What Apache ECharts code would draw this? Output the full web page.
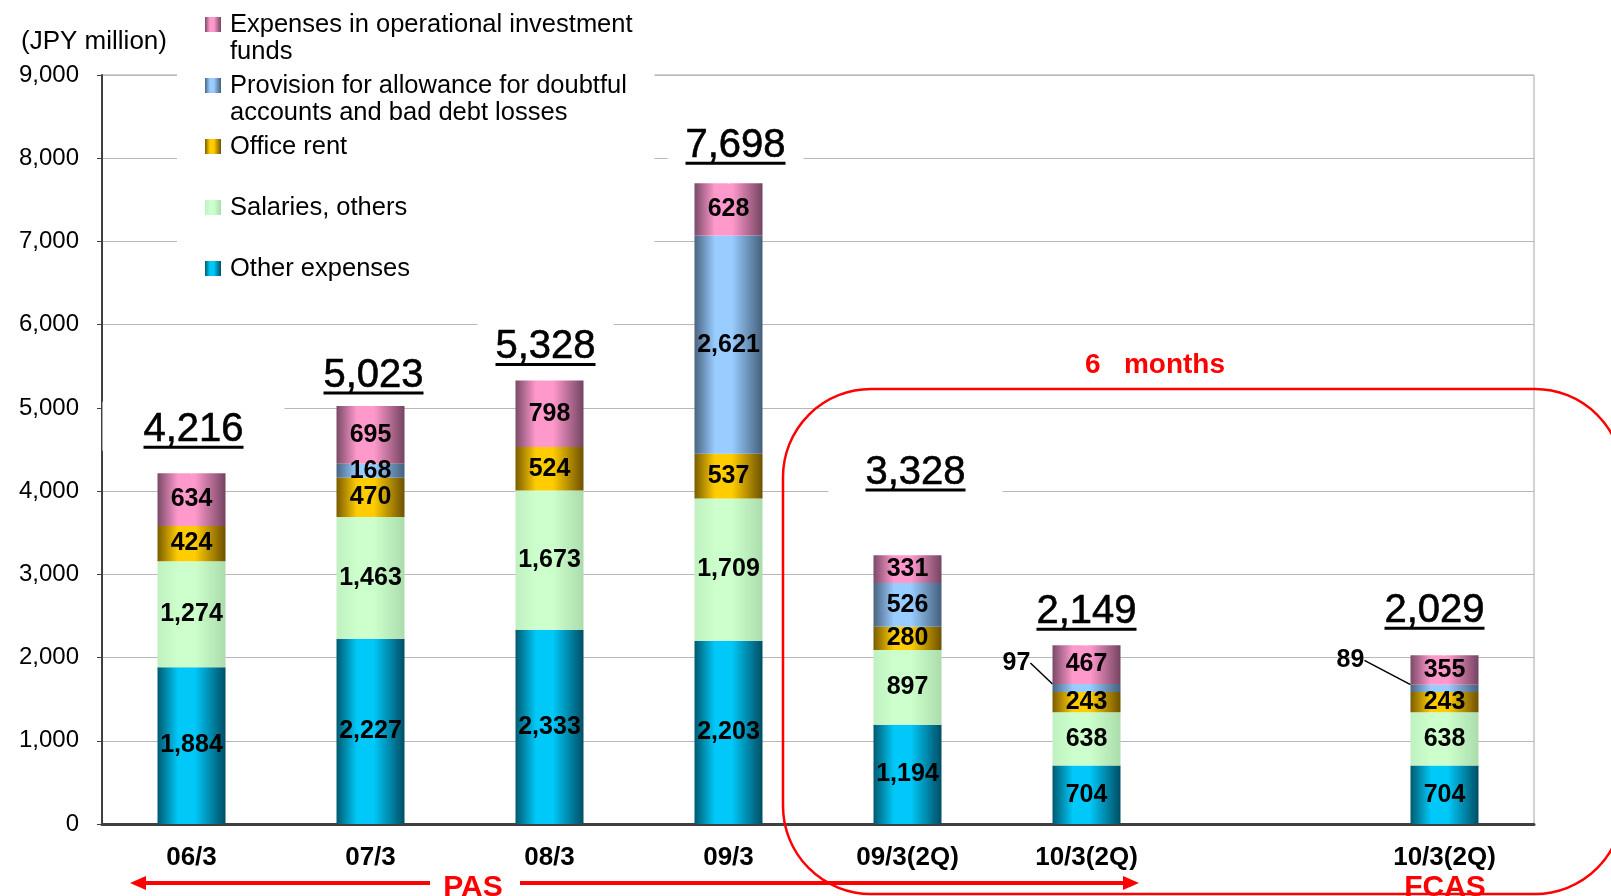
<!DOCTYPE html>
<html lang="en">
<head>
<meta charset="UTF-8">
<title>Expenses</title>
<style>html,body{margin:0;padding:0;background:#fff}</style>
</head>
<body>
<div id="echart" style="width: 1611px; height: 896px;"></div>
<script src="https://cdn.jsdelivr.net/npm/echarts@6/dist/echarts.min.js"></script>
<script>
    // categories (index 6 is an empty slot between the two 10/3(2Q) bars)
    var categories = ['06/3', '07/3', '08/3', '09/3', '09/3(2Q)', '10/3(2Q)', '', '10/3(2Q)'];
    // JPY million
    var otherExpenses = [1884, 2227, 2333, 2203, 1194, 704, null, 704];
    var salaries = [1274, 1463, 1673, 1709, 897, 638, null, 638];
    var officeRent = [424, 470, 524, 537, 280, 243, null, 243];
    var provision = [null, 168, null, 2621, 526, 97, null, 89];
    var fundExpenses = [634, 695, 798, 628, 331, 467, null, 355];
    var totals = [4216, 5023, 5328, 7698, 3328, 2149, null, 2029];

    var names = {
        funds: 'Expenses in operational investment\nfunds',
        provision: 'Provision for allowance for doubtful\naccounts and bad debt losses',
        rent: 'Office rent',
        salaries: 'Salaries, others',
        other: 'Other expenses'
    };

    // label placement for the totals (px above bar top, px sideways, box padding)
    var totalLift = [22, 9, 12, 16, 53, 12, 0, 23];
    var totalShift = [2, 3, -4, 7, 8, 0, 0, -10];
    var totalPad = [41, 20, 18, 18, 37, 18, 0, 18];

    var FONT = '"Liberation Sans", Arial, sans-serif';

    function fmt(v) {
        return Number(v).toLocaleString('en-US');
    }
    function grad(edgeL, mid, edgeR) {
        return new echarts.graphic.LinearGradient(0, 0, 1, 0, [
            {offset: 0, color: edgeL},
            {offset: 0.3, color: mid},
            {offset: 0.55, color: mid},
            {offset: 1, color: edgeR}
        ]);
    }

    var segLabel = {
        show: true,
        position: 'inside',
        color: '#000',
        fontWeight: 'bold',
        fontSize: 25,
        fontFamily: FONT,
        formatter: function (p) { return fmt(p.value); }
    };

    function barSeries(name, data, color, extra) {
        var s = {
            name: name,
            type: 'bar',
            stack: 'total',
            barWidth: 68,
            data: data,
            itemStyle: {color: color},
            label: segLabel,
            emphasis: {disabled: true}
        };
        for (var k in extra) s[k] = extra[k];
        return s;
    }

    var dom = document.getElementById('echart');
    var myChart = echarts.init(dom);

    var option = {
        animation: false,
        textStyle: {fontFamily: FONT},
        grid: {
            left: 102, right: 77, top: 75, bottom: 72,
            show: true,
            borderColor: '#a6a6a6',
            borderWidth: 1
        },
        legend: {
            orient: 'vertical',
            left: 177,
            top: 0,
            padding: [11, 22, 6, 28],
            backgroundColor: '#fff',
            itemGap: 7,
            itemWidth: 16,
            itemHeight: 54,
            // icon sits next to the first text line
            icon: 'path://M0,0L0,0M0,6L16,6L16,21L0,21ZM16,54L16,54',
            selectedMode: false,
            data: [names.funds, names.provision, names.rent, names.salaries, names.other],
            formatter: function (name) {
                return name.indexOf('\n') < 0 ? name + '\n ' : name;
            },
            textStyle: {fontSize: 25.5, lineHeight: 27, color: '#000', padding: [0, 0, 0, 4]}
        },
        xAxis: {
            type: 'category',
            data: categories,
            axisLine: {lineStyle: {color: '#404040', width: 3}},
            axisTick: {show: false},
            axisLabel: {
                color: '#000',
                fontWeight: 'bold',
                fontSize: 26,
                margin: 21,
                interval: 0
            }
        },
        yAxis: {
            type: 'value',
            min: 0,
            max: 9000,
            interval: 1000,
            name: '(JPY million)',
            nameLocation: 'end',
            nameGap: 20,
            nameTextStyle: {color: '#000', fontSize: 26, padding: [0, 16, 0, 0]},
            axisLine: {show: true, lineStyle: {color: '#404040', width: 2}},
            axisTick: {show: true, length: 5, lineStyle: {color: '#404040'}},
            axisLabel: {
                color: '#000',
                fontSize: 24,
                margin: 23,
                formatter: function (v) { return fmt(v); }
            },
            splitLine: {lineStyle: {color: '#b8b8b8', width: 1}}
        },
        series: [
            barSeries(names.other, otherExpenses, grad('#005a70', '#00c8f8', '#004e64')),
            barSeries(names.salaries, salaries, grad('#c0f0c0', '#ccffcc', '#acdcac')),
            barSeries(names.rent, officeRent, grad('#7a5c00', '#ffcc00', '#6e5200')),
            barSeries(names.provision, provision, grad('#4a6480', '#99ccff', '#44607c'), {
                labelLayout: function (p) {
                    if (p.dataIndex === 5) return {dx: -70, dy: -25};
                    if (p.dataIndex === 7) return {dx: -94, dy: -28};
                    return {};
                },
                labelLine: {show: true, lineStyle: {color: '#000', width: 1.5}}
            }),
            barSeries(names.funds, fundExpenses, grad('#7a4a68', '#ff99cc', '#744462')),
            {
                name: 'Total',
                type: 'scatter',
                z: 5,
                symbolSize: 1,
                itemStyle: {color: '#fff', opacity: 1},
                emphasis: {disabled: true},
                data: totals.map(function (v, i) {
                    if (v == null) return null;
                    return {
                        value: v,
                        label: {
                            offset: [totalShift[i], -totalLift[i]],
                            padding: [12, totalPad[i], 2, totalPad[i]]
                        }
                    };
                }),
                label: {
                    show: true,
                    position: 'top',
                    distance: 0,
                    backgroundColor: '#fff',
                    formatter: function (p) { return '{t|' + fmt(p.value) + '}\n{u|}'; },
                    rich: {
                        t: {
                            fontSize: 40, lineHeight: 32, color: '#000', align: 'center', fontFamily: FONT,
                            textBorderColor: '#000', textBorderWidth: 0.6
                        },
                        u: {width: 100, height: 3, backgroundColor: '#000', align: 'center'}
                    }
                }
            }
        ],
        graphic: [
            {
                type: 'rect',
                z: 100,
                shape: {x: 783, y: 389, width: 840, height: 505, r: 88},
                style: {fill: 'none', stroke: '#ff0000', lineWidth: 2.5}
            },
            {
                type: 'text', z: 100, x: 1155, y: 365,
                style: {text: '6   months', fill: '#ff0000', fontSize: 28, fontWeight: 'bold', fontFamily: FONT, align: 'center', verticalAlign: 'middle'}
            },
            {
                type: 'polyline', z: 100,
                shape: {points: [[430, 883], [140, 883]]},
                style: {stroke: '#ff0000', lineWidth: 4}
            },
            {
                type: 'polygon', z: 100,
                shape: {points: [[130, 883], [146, 876], [146, 890]]},
                style: {fill: '#ff0000'}
            },
            {
                type: 'polyline', z: 100,
                shape: {points: [[520, 883], [1128, 883]]},
                style: {stroke: '#ff0000', lineWidth: 4}
            },
            {
                type: 'polygon', z: 100,
                shape: {points: [[1139, 883], [1123, 876], [1123, 890]]},
                style: {fill: '#ff0000'}
            },
            {
                type: 'text', z: 100, x: 473, y: 888,
                style: {text: 'PAS', fill: '#ff0000', fontSize: 30, fontWeight: 'bold', fontFamily: FONT, align: 'center', verticalAlign: 'middle'}
            },
            {
                type: 'text', z: 100, x: 1445, y: 888,
                style: {text: 'FCAS', fill: '#ff0000', fontSize: 30, fontWeight: 'bold', fontFamily: FONT, align: 'center', verticalAlign: 'middle'}
            }
        ]
    };

    myChart.setOption(option, true);
</script>
</body>
</html>
